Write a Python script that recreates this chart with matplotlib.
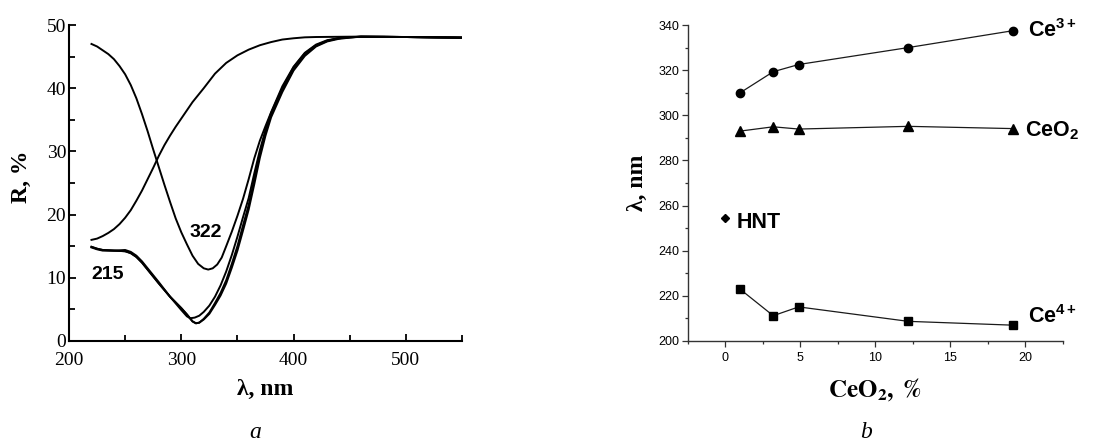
import matplotlib
matplotlib.use("Agg")
import matplotlib.pyplot as plt

plt.rcParams['mathtext.fontset'] = 'custom'
plt.rcParams['mathtext.bf'] = 'Liberation Sans:bold'
plt.rcParams['mathtext.rm'] = 'Liberation Sans'

# ---- panel a: reflectance spectra ----
wl_a = [220, 225, 230, 235, 240, 245, 250, 255, 260, 265, 270, 275, 280, 285, 290, 295, 300, 305, 310,
        315, 320, 324, 328, 332, 336, 340, 345, 350, 355, 360, 365, 370, 375, 380, 390, 400, 410,
        420, 430, 440, 450, 460, 480, 500, 550]
R_322 = [47.0, 46.6, 46.0, 45.4, 44.6, 43.5, 42.2, 40.5, 38.4, 35.9, 33.2, 30.3, 27.5, 24.7, 22.0, 19.4,
         17.2, 15.3, 13.5, 12.2, 11.5, 11.3, 11.5, 12.1, 13.2, 15.0, 17.3, 19.8, 22.5, 25.6, 28.9, 31.7,
         34.0, 36.2, 40.3, 43.4, 45.6, 46.9, 47.6, 47.9, 48.1, 48.15, 48.15, 48.1, 48.0]

wl_b = [220, 225, 230, 235, 240, 245, 250, 255, 260, 265, 270, 275, 280, 285, 290, 295, 300, 310, 320,
        330, 340, 350, 360, 370, 380, 390, 400, 410, 420, 450, 500, 550]
R_hnt = [16.0, 16.2, 16.6, 17.1, 17.7, 18.5, 19.5, 20.7, 22.2, 23.8, 25.6, 27.4, 29.3, 31.0, 32.5, 33.9,
         35.2, 37.8, 40.0, 42.3, 44.0, 45.2, 46.1, 46.8, 47.3, 47.7, 47.9, 48.05, 48.1, 48.15, 48.1, 48.0]

wl_c = [220, 225, 230, 240, 250, 255, 260, 265, 270, 280, 290, 300, 305, 308, 312, 316, 320, 325, 330, 335,
        340, 345, 350, 355, 360, 365, 370, 375, 380, 390, 400, 410, 420, 430, 440, 450, 460, 500, 550]
R_c = [14.8, 14.5, 14.3, 14.3, 14.4, 14.1, 13.5, 12.6, 11.5, 9.3, 7.0, 4.9, 3.9, 3.6, 3.7, 4.0, 4.6, 5.6,
       7.0, 8.8, 11.0, 13.6, 16.5, 19.6, 22.6, 26.5, 30.2, 33.4, 36.1, 40.0, 43.3, 45.5, 46.8, 47.5, 47.9,
       48.05, 48.15, 48.1, 48.0]

wl_d = [220, 225, 230, 240, 250, 255, 260, 265, 270, 275, 280, 290, 300, 305, 310, 313, 316, 320, 325, 330,
        335, 340, 345, 350, 355, 360, 365, 370, 375, 380, 390, 400, 410, 420, 430, 440, 450, 460, 500, 550]
R_d = [14.9, 14.6, 14.4, 14.3, 14.2, 13.9, 13.3, 12.4, 11.3, 10.2, 9.1, 7.0, 5.2, 4.2, 3.1, 2.8, 2.9, 3.5,
       4.5, 6.0, 7.6, 9.6, 12.2, 15.0, 18.3, 21.5, 25.6, 29.6, 33.0, 35.8, 39.7, 43.0, 45.3, 46.7, 47.5,
       47.9, 48.05, 48.15, 48.1, 48.0]
R_e = [14.9, 14.6, 14.4, 14.3, 14.2, 13.9, 13.3, 12.4, 11.3, 10.2, 9.1, 7.0, 5.2, 4.2, 3.1, 2.8, 2.9, 3.4,
       4.3, 5.7, 7.2, 9.1, 11.6, 14.3, 17.5, 20.8, 24.8, 29.0, 32.5, 35.4, 39.4, 42.8, 45.1, 46.6, 47.4,
       47.8, 48.0, 48.15, 48.1, 48.0]

# ---- panel b: band positions vs CeO2 content ----
ceo2_pct = [1.0, 3.2, 4.9, 12.2, 19.2]
lam_ce3 = [310.0, 319.3, 322.5, 330.0, 337.5]
lam_ceo2 = [293.0, 294.9, 293.9, 295.1, 294.1]
lam_ce4 = [222.9, 211.2, 215.1, 208.7, 207.0]
hnt_x, hnt_lam = 0.0, 254.4

fig = plt.figure(figsize=(11.06, 4.41), dpi=100)
ax1 = fig.add_axes([0.0624, 0.2268, 0.3553, 0.7165])
ax2 = fig.add_axes([0.6218, 0.2268, 0.3391, 0.7165])

serif = 'Liberation Serif'
sans = 'Liberation Sans'

for wl, R in [(wl_a, R_322), (wl_b, R_hnt), (wl_c, R_c), (wl_d, R_d), (wl_d, R_e)]:
    ax1.plot(wl, R, color='black', lw=1.4, solid_joinstyle='round')

ax1.set_xlim(200, 550)
ax1.set_ylim(0, 50)
ax1.set_xticks([200, 300, 400, 500])
ax1.set_xticks([250, 350, 450, 550], minor=True)
ax1.set_yticks([0, 10, 20, 30, 40, 50])
ax1.set_yticks([5, 15, 25, 35, 45], minor=True)
ax1.spines['top'].set_visible(False)
ax1.spines['right'].set_visible(False)
for s in ['left', 'bottom']:
    ax1.spines[s].set_linewidth(1.5)
ax1.tick_params(which='major', direction='in', length=5, width=1.3, labelsize=14)
ax1.tick_params(which='minor', direction='in', length=4, width=1.3)
ax1.tick_params(axis='x', which='major', pad=8)
ax1.tick_params(axis='y', which='major', pad=2)
for lab in ax1.get_xticklabels() + ax1.get_yticklabels():
    lab.set_fontfamily(serif)
ax1.set_xlabel('λ, nm', fontfamily=serif, fontweight='bold', fontsize=17)
ax1.set_ylabel('R, %', fontfamily=serif, fontweight='bold', fontsize=17)
ax1.xaxis.set_label_coords(0.5, -0.12)
ax1.yaxis.set_label_coords(-0.095, 0.52)
ax1.text(307, 16.5, '322', fontfamily=sans, fontweight='bold', fontsize=14, va='baseline')
ax1.text(219.5, 9.8, '215', fontfamily=sans, fontweight='bold', fontsize=14, va='baseline')

lc = '#1a1a1a'
ax2.plot(ceo2_pct, lam_ce3, color=lc, lw=0.9, marker='o', ms=6, mfc='black', mec='black')
ax2.plot(ceo2_pct, lam_ceo2, color=lc, lw=0.9, marker='^', ms=7, mfc='black', mec='black')
ax2.plot(ceo2_pct, lam_ce4, color=lc, lw=0.9, marker='s', ms=5.5, mfc='black', mec='black')
ax2.plot([hnt_x], [hnt_lam], marker='D', ms=4.5, color='black', ls='none')

ax2.set_xlim(-2.5, 22.5)
ax2.set_ylim(200, 340)
ax2.set_xticks([0, 5, 10, 15, 20])
ax2.set_xticks([-2.5, 2.5, 7.5, 12.5, 17.5, 22.5], minor=True)
ax2.set_yticks([200, 220, 240, 260, 280, 300, 320, 340])
ax2.set_yticks([210, 230, 250, 270, 290, 310, 330], minor=True)
ax2.spines['top'].set_visible(False)
ax2.spines['right'].set_visible(False)
for s in ['left', 'bottom']:
    ax2.spines[s].set_linewidth(1.0)
    ax2.spines[s].set_color('#333333')
ax2.tick_params(which='major', direction='out', length=4, width=0.9, labelsize=9, color='#333333')
ax2.tick_params(which='minor', direction='out', length=2.5, width=0.9, color='#333333')
ax2.tick_params(axis='x', which='major', pad=4)
ax2.tick_params(axis='y', which='major', pad=2)
for lab in ax2.get_xticklabels() + ax2.get_yticklabels():
    lab.set_fontfamily(sans)
ax2.set_xlabel(r'$\mathbf{CeO_2,\ \%}$', fontsize=18, math_fontfamily='stix')
ax2.set_ylabel('λ, nm', fontfamily=serif, fontweight='bold', fontsize=17)
ax2.xaxis.set_label_coords(0.5, -0.11)
ax2.yaxis.set_label_coords(-0.105, 0.5)

ax2.text(20.15, 334.8, r'$\mathbf{Ce^{3+}}$', fontsize=15.5, va='baseline')
ax2.text(19.95, 290.8, r'$\mathbf{CeO_2}$', fontsize=15.5, va='baseline')
ax2.text(20.15, 207.9, r'$\mathbf{Ce^{4+}}$', fontsize=15.5, va='baseline')
ax2.text(0.75, 250.2, 'HNT', fontfamily=sans, fontweight='bold', fontsize=15.5, va='baseline')

fig.text(255 / 1106, 1 - 432 / 441, 'a', fontfamily=serif, style='italic', fontsize=17,
         ha='center', va='center')
fig.text(866 / 1106, 1 - 432 / 441, 'b', fontfamily=serif, style='italic', fontsize=17,
         ha='center', va='center')

fig.savefig('out.png', dpi=100)
